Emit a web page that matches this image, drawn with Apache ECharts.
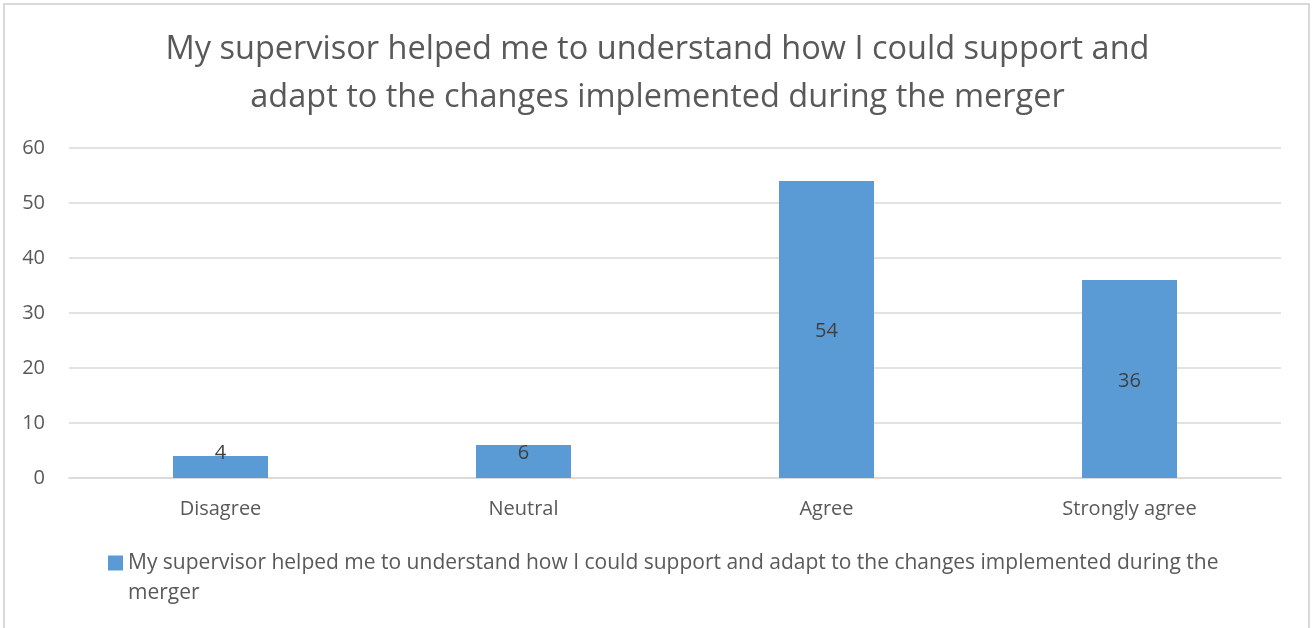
<!DOCTYPE html>
<html>
<head>
<meta charset="utf-8">
<script src="https://cdn.jsdelivr.net/npm/echarts@6/dist/echarts.min.js"></script>
<style>
html,body{margin:0;padding:0;background:#fff;}
#chart{width:1315px;height:628px;}
</style>
</head>
<body>
<div id="chart"></div>
<script>
const titleText = "My supervisor helped me to understand how I could support and\nadapt to the changes implemented during the merger";
const seriesName = "My supervisor helped me to understand how I could support and adapt to the changes implemented during the merger";
const categories = ["Disagree", "Neutral", "Agree", "Strongly agree"];
const values = [4, 6, 54, 36];
const yTicks = [0, 10, 20, 30, 40, 50, 60];

const FONT = "Open Sans";
const chart = echarts.init(document.getElementById('chart'), null, {renderer: 'canvas'});
chart.setOption({
  animation: false,
  backgroundColor: '#fff',
  textStyle: {fontFamily: FONT},
  graphic: [{
    type: 'rect', silent: true,
    shape: {x: 4, y: 4, width: 1305, height: 700},
    style: {fill: 'none', stroke: '#d9d9d9', lineWidth: 2}
  }],
  title: {
    text: titleText,
    left: 'center', top: 21,
    textStyle: {fontFamily: FONT, fontSize: 32.5, fontWeight: 'normal', color: '#595959', lineHeight: 48}
  },
  grid: {left: 69, right: 34, top: 148, bottom: 150, containLabel: false},
  xAxis: {
    type: 'category', data: categories,
    axisLine: {show: true, lineStyle: {color: '#d9d9d9', width: 1.5}},
    axisTick: {show: false},
    axisLabel: {color: '#595959', fontSize: 20, margin: 21, fontFamily: FONT}
  },
  yAxis: {
    type: 'value', min: yTicks[0], max: yTicks[yTicks.length - 1], interval: 10,
    axisLine: {show: false}, axisTick: {show: false},
    splitLine: {lineStyle: {color: '#d9d9d9', width: 1.5}},
    axisLabel: {color: '#595959', fontSize: 20, margin: 24, fontFamily: FONT}
  },
  legend: {
    left: 103, top: 513, itemWidth: 15, itemHeight: 15, itemGap: 6,
    icon: 'rect',
    formatter: function (name) { return '\n' + name; },
    textStyle: {color: '#595959', fontSize: 21, fontFamily: FONT, width: 1125, overflow: 'break', lineHeight: 30}
  },
  series: [{
    name: seriesName, type: 'bar', data: values, barWidth: 95,
    itemStyle: {color: '#5b9bd5'},
    label: {show: true, position: 'inside', offset: [0, 2], color: '#404040', fontSize: 20, fontFamily: FONT}
  }]
});

// Keep data labels at least a minimum distance above the axis (as the original does for short bars)
const MIN_LABEL_RISE = 25;
const y0 = chart.convertToPixel({yAxisIndex: 0}, 0);
const labelData = values.map(function (v) {
  const yMid = chart.convertToPixel({yAxisIndex: 0}, v / 2);
  const rise = y0 - yMid;
  if (rise < MIN_LABEL_RISE) {
    return {value: v, label: {offset: [0, -(MIN_LABEL_RISE - rise)]}};
  }
  return v;
});
chart.setOption({series: [{data: labelData}]});
</script>
</body>
</html>
